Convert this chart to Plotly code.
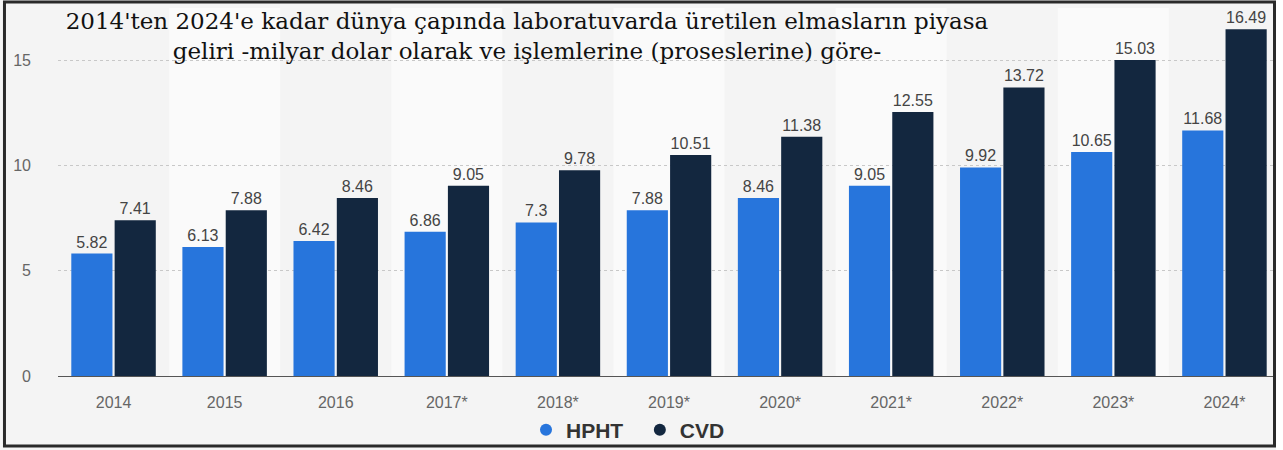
import plotly.graph_objects as go

years = ["2014", "2015", "2016", "2017*", "2018*", "2019*", "2020*", "2021*", "2022*", "2023*", "2024*"]
hpht = [5.82, 6.13, 6.42, 6.86, 7.3, 7.88, 8.46, 9.05, 9.92, 10.65, 11.68]
cvd = [7.41, 7.88, 8.46, 9.05, 9.78, 10.51, 11.38, 12.55, 13.72, 15.03, 16.49]
y_ticks = [0, 5, 10, 15]

HPHT_C = "#2775dc"
CVD_C = "#13273f"
SANS = "Liberation Sans, Arial"
NB = "\u00a0"

fig = go.Figure()
fig.add_trace(go.Bar(x=years, y=hpht, name="HPHT", marker=dict(color=HPHT_C, line=dict(width=0)),
                     text=[str(v) for v in hpht], textposition="outside", cliponaxis=False,
                     textfont=dict(family=SANS, size=16, color="#444"),
                     showlegend=False))
fig.add_trace(go.Bar(x=years, y=cvd, name="CVD", marker=dict(color=CVD_C, line=dict(width=0)),
                     text=[str(v) for v in cvd], textposition="outside", cliponaxis=False,
                     textfont=dict(family=SANS, size=16, color="#444"),
                     showlegend=False))
for nm, c in [("HPHT" + NB * 2, HPHT_C), ("CVD", CVD_C)]:
    fig.add_trace(go.Scatter(x=[None], y=[None], mode="markers", name=nm,
                             marker=dict(symbol="circle", size=18, color=c)))

shapes = []
for i, yr in enumerate(years):
    if i % 2 == 1:
        shapes.append(dict(type="rect", xref="x", yref="paper", x0=i - 0.5, x1=i + 0.5, y0=0, y1=1,
                           fillcolor="rgba(255,255,255,0.55)", line=dict(width=0), layer="below"))
# white page area outside the frame on the right
shapes.append(dict(type="rect", xref="paper", yref="paper", x0=0.9967, x1=1.01, y0=-0.25, y1=1.05,
                   fillcolor="white", line=dict(width=0), layer="above"))
# outer border
shapes.append(dict(type="rect", xref="paper", yref="paper", x0=-0.0438, x1=0.9955, y0=-0.1902, y1=1.0163,
                   line=dict(color="#2a2a2a", width=3), fillcolor="rgba(0,0,0,0)", layer="above"))

fig.update_layout(
    width=1283, height=450,
    margin=dict(l=58, r=3, t=8, b=74, autoexpand=False),
    paper_bgcolor="#f4f4f4", plot_bgcolor="#f4f4f4",
    barmode="group", bargap=0.22, bargroupgap=0.05,
    title=dict(text="2014'ten 2024'e kadar dünya çapında laboratuvarda üretilen elmasların piyasa<br>geliri -milyar dolar olarak ve işlemlerine (proseslerine) göre-",
               x=527 / 1283, xanchor="center", xref="container",
               y=1 - 29 / 450, yanchor="top", yref="container",
               font=dict(family="DejaVu Serif, Liberation Serif", size=23, color="#111")),
    xaxis=dict(showgrid=False, showline=True, linecolor="#555", linewidth=1, automargin=False,
               tickfont=dict(family=SANS, size=16, color="#666"),
               ticks="", ticklabelstandoff=12, range=[-0.5, 10.5]),
    yaxis=dict(range=[0, 17.5], tickvals=y_ticks, showgrid=True, gridcolor="#c8c8c8",
               griddash="dot", gridwidth=1, zeroline=False, showline=False, automargin=False,
               tickfont=dict(family=SANS, size=16, color="#666"),
               ticklabelstandoff=26),
    legend=dict(orientation="h", x=628 / 1283, xref="container", xanchor="center",
                y=20 / 450, yref="container", yanchor="middle",
                font=dict(family=SANS, size=21, color="#333", weight="bold"),
                bgcolor="rgba(0,0,0,0)", itemsizing="constant"),
    shapes=shapes,
    showlegend=True,
)

fig.write_html("out.html", config={"displayModeBar": False},
               post_script="document.body.style.margin='0';document.body.style.overflow='hidden';")
